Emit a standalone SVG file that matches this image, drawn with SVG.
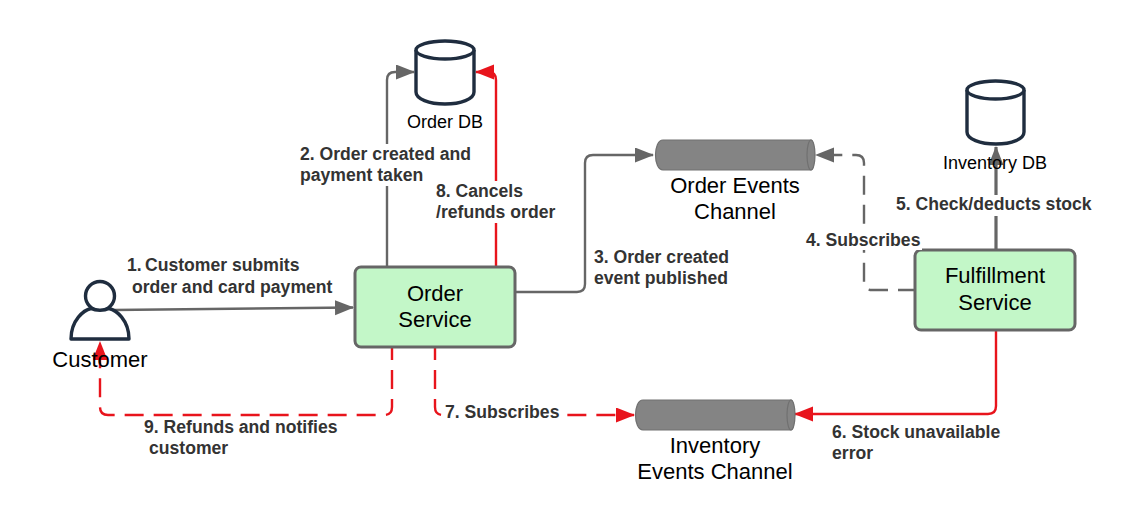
<svg xmlns="http://www.w3.org/2000/svg" width="1134" height="515" viewBox="0 0 1134 515">
<style>
.c{fill:none;stroke-width:2.4}
.g{stroke:#666}
.r{stroke:#e8141c}
.d{stroke-dasharray:19 10;stroke-dashoffset:7}
.box{fill:#c3f7c8;stroke:#666;stroke-width:3}
.ic{fill:#fff;stroke:#1f2d3f;stroke-width:3.4;stroke-linejoin:round}
.pipe{fill:#848484;stroke:#707070;stroke-width:1.2}
.n{font:22px "Liberation Sans",Arial,sans-serif;fill:#000;text-anchor:middle}
.s{font:18px "Liberation Sans",Arial,sans-serif;fill:#000;text-anchor:middle}
.cn{font:22px "Liberation Sans",Arial,sans-serif;fill:#000;text-anchor:middle}
.l{font:bold 17.6px "Liberation Sans",Arial,sans-serif;fill:#333}
.bg{fill:#fff;stroke:none}
</style>
<defs>
<marker id="ag" markerUnits="userSpaceOnUse" markerWidth="20" markerHeight="16" refX="18" refY="7.5" orient="auto"><path d="M0 0L19 7.500L0 15Z" fill="#666"/></marker>
<marker id="ar" markerUnits="userSpaceOnUse" markerWidth="20" markerHeight="16" refX="18" refY="7.5" orient="auto"><path d="M0 0L19 7.500L0 15Z" fill="#e8141c"/></marker>
</defs>
<g id="connectors">
<path class="c g" d="M113 310L353 307.500" marker-end="url(#ag)"/>
<path class="c g" d="M387 267V80Q387 72 395 72H414" marker-end="url(#ag)"/>
<path class="c r" d="M496 267V80Q496 72 488 72H476" marker-end="url(#ar)"/>
<path class="c g" d="M516 292H577Q585 292 585 284V163Q585 155 593 155H653" marker-end="url(#ag)"/>
<path class="c g d" style="stroke-dashoffset:3" d="M914 290H872Q864 290 864 282V163Q864 155 856 155H816" marker-end="url(#ag)"/>
<path class="c g" style="stroke-width:3.2" d="M996 249V147" marker-end="url(#ag)"/>
<path class="c r" d="M996 331V406Q996 414 988 414H795" marker-end="url(#ar)"/>
<path class="c r d" d="M435 348V407Q435 415 443 415H634" marker-end="url(#ar)"/>
<path class="c r d" d="M392 348V407Q392 415 384 415H108Q100 415 100 407V342" marker-end="url(#ar)"/>
</g>
<g id="customer">
<circle class="ic" cx="100" cy="296" r="14.500"/>
<path class="ic" d="M71 339C71 320 84 310 91 308.500C96 311 104 311 109 308.500C116 310 129 320 129 339Z"/>
<text class="n" x="100" y="367">Customer</text>
</g>
<g id="order-db">
<path class="ic" d="M416 50V92C416 99 429 104 445 104C461 104 474 99 474 92V50"/>
<ellipse class="ic" cx="445" cy="50" rx="29" ry="9"/>
<text class="s" x="445" y="128">Order DB</text>
</g>
<g id="inventory-db">
<path class="ic" d="M967 90V132C967 139 980 144 996 144C1012 144 1024 139 1024 132V90"/>
<ellipse class="ic" cx="995.500" cy="90" rx="28.500" ry="9"/>
<text class="s" x="995" y="168.500">Inventory DB</text>
</g>
<g id="order-service">
<rect class="box" x="355" y="267" width="160" height="80" rx="6"/>
<text class="n" x="435" y="301">Order</text>
<text class="n" x="435" y="327">Service</text>
</g>
<g id="fulfillment-service">
<rect class="box" x="915" y="250" width="160" height="80" rx="6"/>
<text class="n" x="995" y="283">Fulfillment</text>
<text class="n" x="995" y="310">Service</text>
</g>
<g id="order-events-channel">
<path class="pipe" d="M663 140H811C815 140 815 170 811 170H663C653 170 653 140 663 140Z"/>
<ellipse class="pipe" cx="811" cy="155" rx="4" ry="15"/>
<text class="cn" x="735" y="193">Order Events</text>
<text class="cn" x="735" y="219">Channel</text>
</g>
<g id="inventory-events-channel">
<path class="pipe" d="M643 400H791C795 400 795 430 791 430H643C633 430 633 400 643 400Z"/>
<ellipse class="pipe" cx="791" cy="415" rx="4" ry="15"/>
<text class="cn" x="715" y="453">Inventory</text>
<text class="cn" x="715" y="479">Events Channel</text>
</g>
<g id="labels">
<rect class="bg" x="300" y="144" width="174" height="42"/>
<rect class="bg" x="435" y="181" width="122" height="42"/>
<rect class="bg" x="806" y="231" width="116" height="19"/>
<rect class="bg" x="895" y="195" width="200" height="21"/>
<rect class="bg" x="445" y="404" width="114" height="20"/>
<text class="l" x="127" y="271">1.</text><text class="l" x="145" y="271">Customer submits</text>
<text class="l" x="132" y="293">order and card payment</text>
<text class="l" x="300" y="160">2. Order created and</text>
<text class="l" x="300" y="181">payment taken</text>
<text class="l" x="436" y="197">8. Cancels</text>
<text class="l" x="436" y="218">/refunds order</text>
<text class="l" x="594" y="263">3. Order created</text>
<text class="l" x="594" y="284">event published</text>
<text class="l" x="806" y="246">4. Subscribes</text>
<text class="l" x="896" y="210">5. Check/deducts stock</text>
<text class="l" x="445" y="418">7. Subscribes</text>
<text class="l" x="144" y="433">9. Refunds and notifies</text>
<text class="l" x="149" y="454">customer</text>
<text class="l" x="832" y="438">6. Stock unavailable</text>
<text class="l" x="832" y="459">error</text>
</g>
</svg>
